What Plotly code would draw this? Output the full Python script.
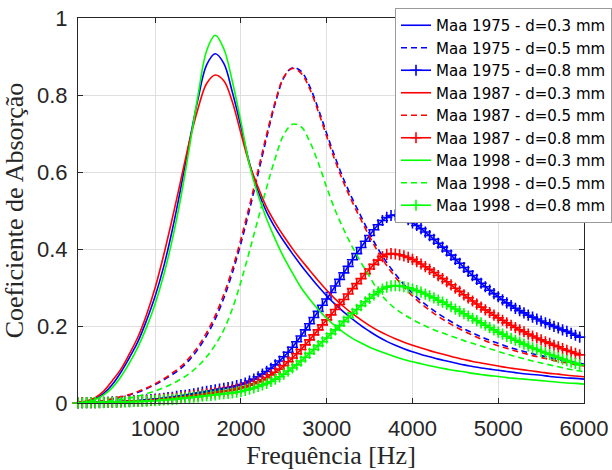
import plotly.graph_objects as go

# Frequency grids [Hz]
freq = list(range(100, 6001, 100))        # 60 points for d=0.3 and d=0.5 curves
freq_fine = list(range(100, 5951, 50))    # 118 points for d=0.8 curves (with markers)

# ---- Maa 1975 ----
maa1975_d03 = [0.001,0.004,0.011,0.025,0.048,0.080,0.118,0.160,0.215,0.278,
               0.355,0.450,0.560,0.680,0.790,0.878,0.907,0.882,0.807,0.718,
               0.622,0.550,0.496,0.455,0.420,0.388,0.358,0.330,0.303,0.278,
               0.256,0.236,0.218,0.201,0.186,0.172,0.160,0.150,0.141,0.133,
               0.126,0.120,0.114,0.109,0.104,0.099,0.095,0.091,0.088,0.085,
               0.082,0.079,0.076,0.074,0.072,0.069,0.067,0.065,0.064,0.062]
maa1975_d05 = [0.000,0.001,0.003,0.006,0.010,0.015,0.021,0.028,0.037,0.048,
               0.060,0.074,0.090,0.112,0.140,0.175,0.218,0.272,0.338,0.415,
               0.502,0.595,0.690,0.778,0.845,0.871,0.862,0.823,0.765,0.700,
               0.637,0.580,0.530,0.485,0.440,0.400,0.365,0.335,0.308,0.285,
               0.265,0.248,0.232,0.218,0.205,0.193,0.182,0.172,0.163,0.155,
               0.147,0.140,0.134,0.128,0.123,0.118,0.113,0.109,0.105,0.101]
maa1975_d08 = [0.000,0.001,0.001,0.001,0.001,0.002,0.002,0.002,0.003,0.003,
               0.004,0.004,0.005,0.006,0.006,0.007,0.008,0.009,0.010,0.011,
               0.012,0.014,0.015,0.017,0.019,0.020,0.022,0.024,0.026,0.028,
               0.030,0.032,0.034,0.036,0.038,0.040,0.042,0.045,0.048,0.052,
               0.057,0.062,0.068,0.075,0.082,0.090,0.099,0.109,0.120,0.132,
               0.145,0.159,0.174,0.190,0.206,0.222,0.238,0.254,0.270,0.287,
               0.304,0.321,0.338,0.355,0.372,0.388,0.404,0.420,0.435,0.450,
               0.463,0.474,0.482,0.487,0.488,0.486,0.482,0.476,0.468,0.461,
               0.453,0.444,0.435,0.425,0.415,0.405,0.395,0.384,0.373,0.363,
               0.352,0.342,0.331,0.321,0.311,0.302,0.293,0.284,0.276,0.268,
               0.260,0.253,0.246,0.240,0.234,0.228,0.223,0.218,0.213,0.208,
               0.204,0.199,0.195,0.190,0.186,0.181,0.176,0.171]

# ---- Maa 1987 ----
maa1987_d03 = [0.001,0.005,0.014,0.031,0.058,0.088,0.128,0.172,0.230,0.300,
               0.385,0.480,0.580,0.680,0.765,0.830,0.852,0.837,0.782,0.700,
               0.620,0.560,0.508,0.468,0.433,0.401,0.372,0.345,0.318,0.293,
               0.270,0.250,0.232,0.216,0.201,0.188,0.177,0.167,0.158,0.150,
               0.143,0.136,0.130,0.124,0.118,0.113,0.108,0.104,0.100,0.096,
               0.092,0.089,0.086,0.083,0.080,0.077,0.075,0.072,0.070,0.068]
maa1987_d05 = [0.000,0.001,0.003,0.006,0.011,0.016,0.022,0.030,0.039,0.050,
               0.063,0.078,0.095,0.118,0.147,0.183,0.227,0.282,0.348,0.426,
               0.513,0.605,0.698,0.783,0.847,0.869,0.857,0.817,0.758,0.692,
               0.628,0.571,0.521,0.476,0.432,0.392,0.357,0.327,0.301,0.278,
               0.258,0.241,0.225,0.211,0.198,0.187,0.176,0.166,0.157,0.149,
               0.142,0.135,0.129,0.123,0.118,0.113,0.108,0.104,0.100,0.096]
maa1987_d08 = [0.000,0.001,0.001,0.001,0.001,0.001,0.002,0.002,0.002,0.003,
               0.003,0.004,0.004,0.005,0.005,0.006,0.006,0.007,0.008,0.009,
               0.010,0.011,0.012,0.013,0.015,0.016,0.018,0.019,0.021,0.022,
               0.024,0.026,0.027,0.029,0.031,0.032,0.034,0.036,0.039,0.042,
               0.046,0.050,0.055,0.060,0.066,0.073,0.080,0.088,0.097,0.107,
               0.117,0.128,0.139,0.151,0.164,0.177,0.190,0.203,0.216,0.229,
               0.243,0.256,0.269,0.283,0.297,0.310,0.323,0.336,0.348,0.360,
               0.371,0.380,0.386,0.388,0.387,0.385,0.382,0.378,0.373,0.367,
               0.361,0.354,0.347,0.339,0.331,0.323,0.315,0.307,0.298,0.290,
               0.281,0.273,0.265,0.257,0.249,0.242,0.235,0.228,0.221,0.215,
               0.208,0.202,0.196,0.190,0.185,0.179,0.174,0.169,0.164,0.159,
               0.155,0.150,0.146,0.141,0.137,0.133,0.129,0.125]

# ---- Maa 1998 ----
maa1998_d03 = [0.000,0.003,0.009,0.021,0.040,0.068,0.104,0.146,0.197,0.258,
               0.333,0.425,0.535,0.665,0.800,0.915,0.955,0.920,0.835,0.730,
               0.618,0.540,0.478,0.425,0.378,0.338,0.300,0.270,0.243,0.220,
               0.200,0.183,0.168,0.156,0.145,0.136,0.128,0.120,0.113,0.107,
               0.102,0.097,0.092,0.088,0.084,0.081,0.077,0.074,0.071,0.069,
               0.066,0.064,0.062,0.060,0.058,0.056,0.054,0.052,0.051,0.049]
maa1998_d05 = [0.000,0.001,0.002,0.004,0.006,0.009,0.013,0.018,0.024,0.031,
               0.040,0.050,0.062,0.077,0.096,0.120,0.151,0.190,0.245,0.315,
               0.395,0.478,0.560,0.636,0.697,0.724,0.718,0.680,0.625,0.560,
               0.500,0.450,0.405,0.365,0.328,0.292,0.265,0.245,0.230,0.217,
               0.205,0.195,0.186,0.178,0.170,0.162,0.155,0.148,0.141,0.134,
               0.127,0.121,0.115,0.109,0.104,0.099,0.094,0.089,0.085,0.081]
maa1998_d08 = [0.000,0.000,0.001,0.001,0.001,0.001,0.001,0.002,0.002,0.002,
               0.002,0.003,0.003,0.004,0.004,0.004,0.005,0.006,0.006,0.007,
               0.008,0.009,0.009,0.010,0.012,0.013,0.014,0.015,0.016,0.018,
               0.019,0.020,0.021,0.023,0.024,0.025,0.026,0.028,0.030,0.033,
               0.036,0.039,0.043,0.047,0.051,0.056,0.062,0.068,0.075,0.083,
               0.091,0.099,0.109,0.119,0.129,0.139,0.149,0.159,0.169,0.180,
               0.190,0.201,0.212,0.222,0.233,0.243,0.253,0.263,0.272,0.281,
               0.289,0.296,0.301,0.304,0.305,0.304,0.302,0.299,0.296,0.292,
               0.288,0.283,0.278,0.273,0.267,0.262,0.256,0.250,0.244,0.238,
               0.232,0.226,0.220,0.214,0.208,0.202,0.196,0.190,0.184,0.179,
               0.173,0.168,0.163,0.158,0.153,0.148,0.143,0.139,0.134,0.130,
               0.126,0.122,0.118,0.114,0.110,0.106,0.103,0.099]

x_ticks = [1000, 2000, 3000, 4000, 5000, 6000]
y_ticks = [0, 0.2, 0.4, 0.6, 0.8, 1]
y_tick_labels = ["0", "0.2", "0.4", "0.6", "0.8", "1"]

series = [
    ("Maa 1975 - d=0.3 mm", freq, maa1975_d03, "#0000ff", "solid", False),
    ("Maa 1975 - d=0.5 mm", freq, maa1975_d05, "#0000ff", "dash", False),
    ("Maa 1975 - d=0.8 mm", freq_fine, maa1975_d08, "#0000ff", "solid", True),
    ("Maa 1987 - d=0.3 mm", freq, maa1987_d03, "#ff0000", "solid", False),
    ("Maa 1987 - d=0.5 mm", freq, maa1987_d05, "#ff0000", "dash", False),
    ("Maa 1987 - d=0.8 mm", freq_fine, maa1987_d08, "#ff0000", "solid", True),
    ("Maa 1998 - d=0.3 mm", freq, maa1998_d03, "#00ff00", "solid", False),
    ("Maa 1998 - d=0.5 mm", freq, maa1998_d05, "#00ff00", "dash", False),
    ("Maa 1998 - d=0.8 mm", freq_fine, maa1998_d08, "#00ff00", "solid", True),
]

fig = go.Figure()
for i, (name, xs, ys, col, dash, mk) in enumerate(series):
    dash_val = "6px,4px" if dash == "dash" else "solid"
    tr = dict(
        x=xs, y=ys, name=name, legendgroup=f"g{i}",
        line=dict(color=col, width=1.6, dash=dash_val, shape="spline"),
    )
    if mk:
        tr["mode"] = "lines+markers"
        tr["marker"] = dict(symbol="cross-thin", size=8, color=col,
                            line=dict(color=col, width=1.6))
        tr["cliponaxis"] = False
    else:
        tr["mode"] = "lines"
    fig.add_trace(go.Scatter(**tr))

axis_col = "#262626"
fig.update_layout(
    width=612, height=470,
    margin=dict(l=78, r=28, t=18, b=67, autoexpand=False),
    paper_bgcolor="white", plot_bgcolor="white",
    font=dict(family="Liberation Sans, Arial, sans-serif", color=axis_col),
    legend=dict(
        x=(395 - 78) / 506, y=(403 - 8) / 385, xanchor="left", yanchor="top",
        bgcolor="white", bordercolor="#9a9a9a", borderwidth=1,
        font=dict(family="DejaVu Sans", size=15, color="#000000"),
        traceorder="grouped", tracegroupgap=0,
    ),
    showlegend=True,
)
fig.update_xaxes(
    range=[100, 6000], tickvals=x_ticks, ticktext=[str(v) for v in x_ticks],
    showline=True, linecolor=axis_col, linewidth=1, mirror="ticks",
    ticks="inside", ticklen=5, tickcolor=axis_col, tickwidth=1,
    showgrid=True, gridcolor="#dfdfdf", gridwidth=1, zeroline=False,
    tickfont=dict(size=22, family="Liberation Sans", color=axis_col),
    ticklabelstandoff=6,
    title=dict(text="Frequência [Hz]", standoff=8,
               font=dict(family="Liberation Serif", size=26, color=axis_col)),
)
fig.update_yaxes(
    range=[0, 1], tickvals=y_ticks, ticktext=y_tick_labels,
    showline=True, linecolor=axis_col, linewidth=1, mirror="ticks",
    ticks="inside", ticklen=5, tickcolor=axis_col, tickwidth=1,
    showgrid=True, gridcolor="#dfdfdf", gridwidth=1, zeroline=False,
    tickfont=dict(size=22, family="Liberation Sans", color=axis_col),
    ticklabelstandoff=5,
    title=dict(text="Coeficiente de Absorção", standoff=8,
               font=dict(family="Liberation Serif", size=26, color=axis_col)),
)

fig.write_html("out.html")
